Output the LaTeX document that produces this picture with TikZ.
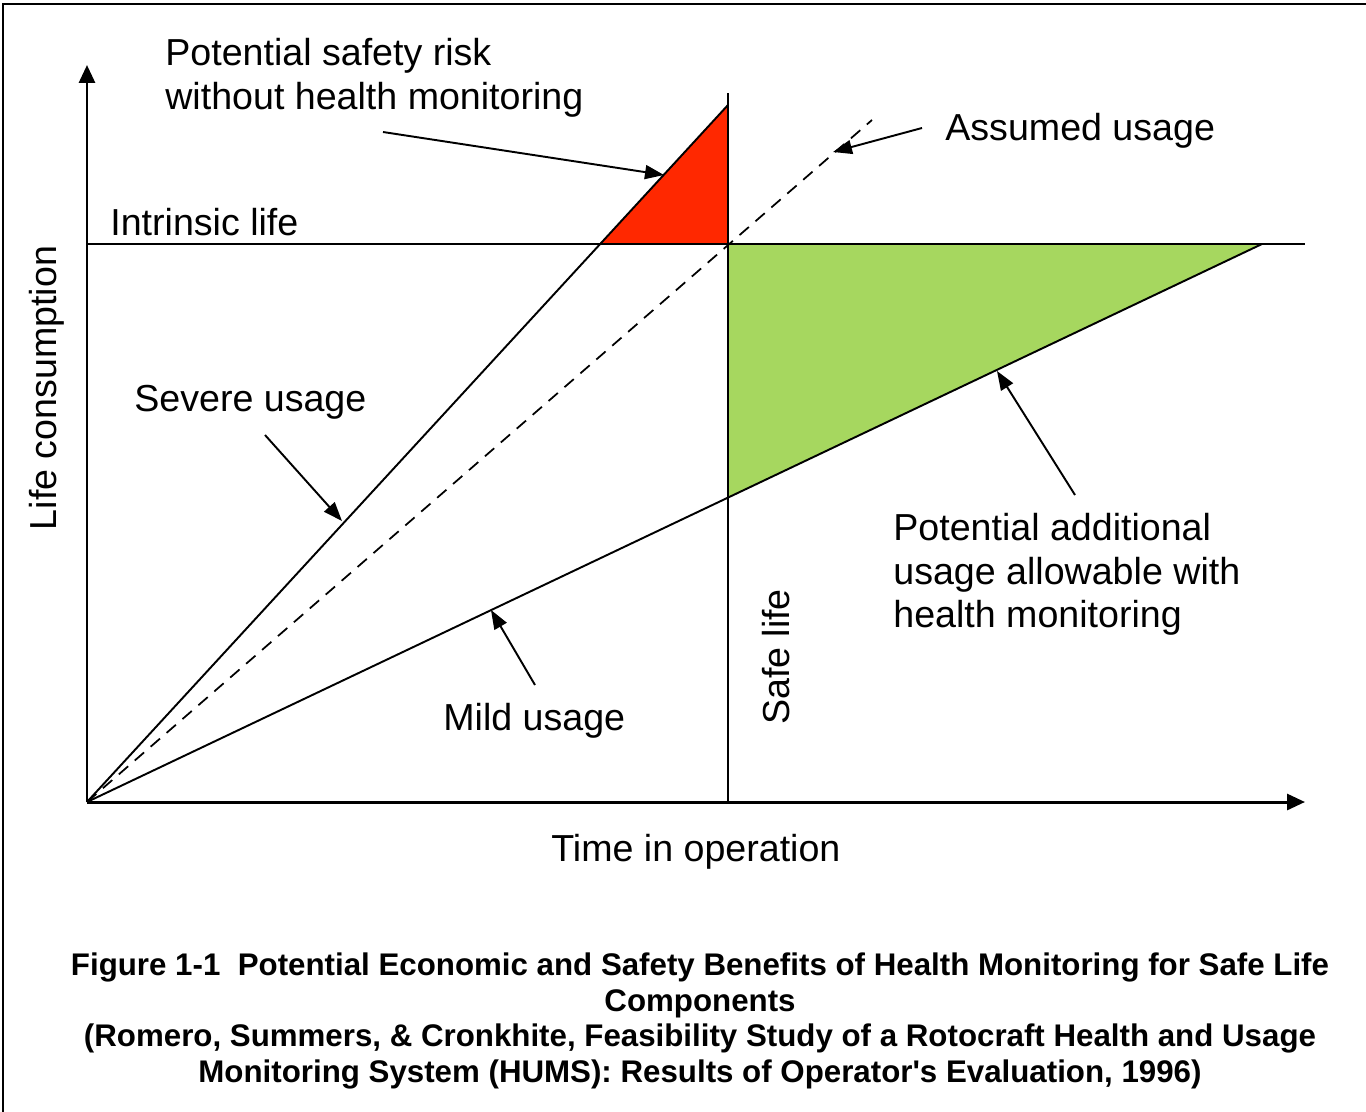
\documentclass[tikz,border=0pt]{standalone}
\usepackage{fontspec}
\setmainfont{Liberation Sans}
\newfontfamily\capfont{Liberation Sans}
\usetikzlibrary{arrows.meta}
\definecolor{riskred}{RGB}{255,40,0}
\definecolor{gaingreen}{RGB}{166,215,95}
\tikzset{
  axis/.style={line width=1.7pt,-{Triangle[length=0.36cm,width=0.32cm]}},
  usage/.style={line width=1.1pt},
  callout/.style={line width=1.1pt,-{Triangle[length=0.38cm,width=0.28cm]}},
  lbl/.style={font=\fontsize{21.4}{25}\selectfont,inner sep=0pt},
}
\begin{document}
\begin{tikzpicture}[x=0.02cm,y=-0.02cm]
\useasboundingbox (0,0) rectangle (1366,1112);
% frame of the scanned page
\draw[line width=1.5pt] (3,1112) -- (3,4) -- (1366,4);

% key points
\coordinate (O) at (87,802);
\coordinate (ytop) at (87,65);
\coordinate (xend) at (1305,802);
\coordinate (ilL) at (87,244);
\coordinate (ilR) at (1305,244);
\coordinate (slT) at (728,93);
\coordinate (slB) at (728,802);
\coordinate (sevEnd) at (728,105);
\coordinate (sevCut) at (600,244);
\coordinate (assEnd) at (872,120);
\coordinate (midX) at (728,244);
\coordinate (mildEnd) at (1262,244);
\coordinate (mildCut) at (728,497);

% shaded areas
\fill[riskred] (sevCut) -- (sevEnd) -- (midX) -- cycle;
\fill[gaingreen] (midX) -- (mildEnd) -- (mildCut) -- cycle;

% usage lines
\draw[usage] (O) -- (sevEnd);
\draw[usage,dash pattern=on 7pt off 5pt,line width=1pt] (O) -- (assEnd);
\draw[usage] (O) -- (mildEnd);

% intrinsic life and safe life
\draw[usage] (ilL) -- (ilR);
\draw[usage] (slT) -- (slB);

% axes
\draw[axis] (O) -- (ytop);
\draw[axis] (O) -- (xend);

% labels
\node[lbl,anchor=base west] (risk1) at (165,65) {Potential safety risk};
\node[lbl,anchor=base west] (risk2) at (165,109) {without health monitoring};
\node[lbl,anchor=base west] (assumed) at (945,140) {Assumed usage};
\node[lbl,anchor=base west] (intrinsic) at (110,235) {Intrinsic life};
\node[lbl,anchor=base west] (severe) at (134,411) {Severe usage};
\node[lbl,anchor=base west] (mild) at (443,730) {Mild usage};
\node[lbl,anchor=base west] (add1) at (893,540) {Potential additional};
\node[lbl,anchor=base west] (add2) at (893,584) {usage allowable with};
\node[lbl,anchor=base west] (add3) at (893,627) {health monitoring};
\node[lbl,anchor=base west] (time) at (551,861) {Time in operation};
\node[lbl,rotate=90] (life) at (47,388) {Life consumption};
\node[lbl,rotate=90] (safe) at (776,657) {Safe life};

% callout arrows
\coordinate (riskT) at (383,132);
\coordinate (riskH) at (664,175);
\coordinate (sevT) at (265,435);
\coordinate (sevH) at (342,521);
\coordinate (assT) at (922,128);
\coordinate (assH) at (833,152);
\coordinate (mildT) at (535,685);
\coordinate (mildH) at (491,610);
\coordinate (addT) at (1075,495);
\coordinate (addH) at (997,371);
\draw[callout] (riskT) -- (riskH);
\draw[callout] (sevT) -- (sevH);
\draw[callout] (assT) -- (assH);
\draw[callout] (mildT) -- (mildH);
\draw[callout] (addT) -- (addH);

% caption
\node[font=\capfont\fontsize{17.8}{20.4}\selectfont\bfseries,align=center,inner sep=0pt] (caption) at (700,1021)
  {Figure 1-1\ \ Potential Economic and Safety Benefits of Health Monitoring for Safe Life\\
   Components\\
   (Romero, Summers, \& Cronkhite, Feasibility Study of a Rotocraft Health and Usage\\
   Monitoring System (HUMS): Results of Operator's Evaluation, 1996)};
\end{tikzpicture}
\end{document}
